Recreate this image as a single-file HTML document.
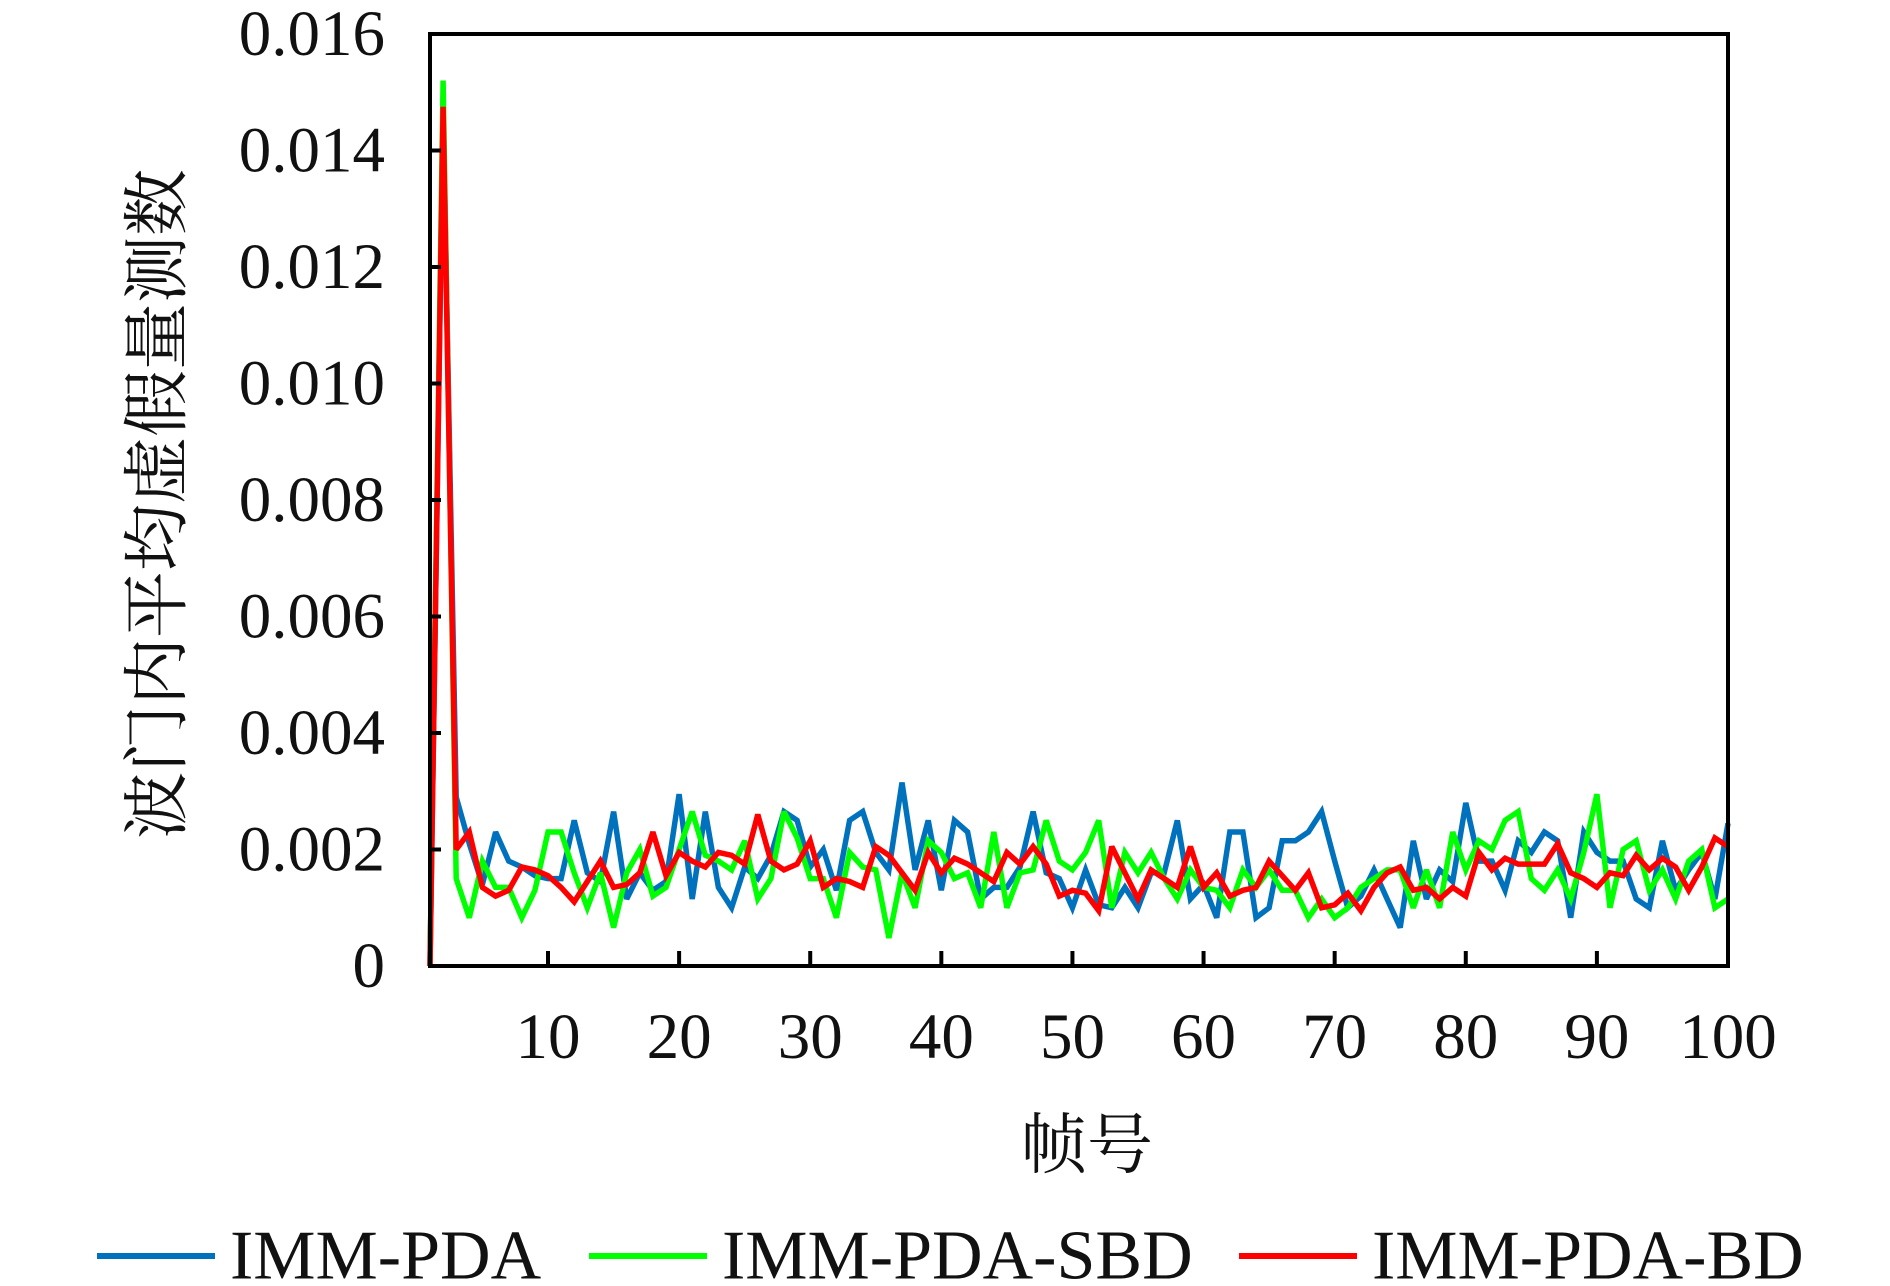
<!DOCTYPE html>
<html><head><meta charset="utf-8"><style>
html,body{margin:0;padding:0;background:#fff;}
svg{display:block;}
text{font-family:"Liberation Serif","Noto Serif CJK SC",serif;fill:#111;}
.cjk{font-family:"Liberation Serif","Noto Serif CJK SC","Noto Sans CJK SC",serif;}
</style></head><body>
<svg id="chart" width="1890" height="1286" viewBox="0 0 1890 1286" xmlns="http://www.w3.org/2000/svg">
<g id="plot"></g>
<g id="axes"></g>
<text class="cjk" x="0" y="0" font-size="67" text-anchor="middle" dominant-baseline="central" transform="translate(158,504) rotate(-90)">波门内平均虚假量测数</text>
<text class="cjk" x="1087" y="1146" font-size="66" text-anchor="middle" dominant-baseline="central">帧号</text>
<g id="legend"></g>
</svg>
<script>
const frames = Array.from({length:100},(_,k)=>k+1);
const yTicks = [0,0.002,0.004,0.006,0.008,0.010,0.012,0.014,0.016];
const yTickLabels = ["0","0.002","0.004","0.006","0.008","0.010","0.012","0.014","0.016"];
const xTicks = [10,20,30,40,50,60,70,80,90,100];
const seriesNames = ["IMM-PDA","IMM-PDA-SBD","IMM-PDA-BD"];
const seriesColors = ["#0072bd","#00ff00","#ff0000"];
// values in units of 0.001
const immPda = [0,14.7,2.9,2.1,1.4,2.3,1.8,1.7,1.55,1.5,1.5,2.5,1.6,1.45,2.65,1.15,1.6,1.3,1.45,2.95,1.15,2.65,1.35,1.0,1.7,1.5,1.9,2.65,2.5,1.7,2.0,1.3,2.5,2.65,1.95,1.65,3.15,1.65,2.5,1.3,2.5,2.3,1.15,1.35,1.35,1.7,2.65,1.6,1.5,1.0,1.65,1.05,1.0,1.35,1.0,1.6,1.6,2.5,1.15,1.4,0.83,2.3,2.3,0.83,1.0,2.15,2.15,2.3,2.65,1.8,1.0,1.2,1.65,1.15,0.66,2.15,1.15,1.65,1.45,2.8,1.8,1.8,1.3,2.15,1.95,2.3,2.15,0.83,2.3,1.95,1.8,1.8,1.15,1.0,2.15,1.3,1.65,1.95,1.15,2.45];
const immPdaSbd = [0,15.2,1.5,0.83,1.8,1.35,1.35,0.83,1.3,2.3,2.3,1.6,1.0,1.6,0.66,1.6,2.0,1.2,1.35,2.0,2.65,1.9,1.8,1.65,2.15,1.15,1.5,2.65,2.2,1.5,1.5,0.83,1.95,1.7,1.65,0.48,1.6,1.0,2.15,1.95,1.5,1.6,1.0,2.3,1.0,1.6,1.65,2.5,1.8,1.65,1.95,2.5,1.0,1.95,1.6,1.95,1.5,1.15,1.65,1.35,1.3,1.0,1.65,1.35,1.65,1.3,1.3,0.83,1.15,0.83,1.0,1.35,1.5,1.65,1.65,1.0,1.65,1.0,2.3,1.65,2.15,2.0,2.5,2.65,1.5,1.3,1.65,1.15,1.95,2.95,1.0,2.0,2.15,1.3,1.65,1.15,1.8,2.0,1.0,1.15];
const immPdaBd = [0,14.75,2.0,2.3,1.35,1.2,1.3,1.7,1.65,1.55,1.35,1.1,1.45,1.8,1.35,1.4,1.6,2.3,1.55,1.95,1.8,1.7,1.95,1.9,1.75,2.6,1.8,1.65,1.75,2.15,1.35,1.5,1.45,1.35,2.05,1.9,1.6,1.3,1.95,1.6,1.85,1.75,1.6,1.45,1.95,1.75,2.05,1.75,1.2,1.3,1.25,0.95,2.05,1.6,1.15,1.65,1.5,1.35,2.05,1.35,1.6,1.2,1.3,1.35,1.8,1.55,1.3,1.6,1.0,1.05,1.25,0.95,1.35,1.6,1.7,1.3,1.35,1.15,1.35,1.2,1.95,1.65,1.85,1.75,1.75,1.75,2.1,1.6,1.5,1.35,1.6,1.55,1.9,1.65,1.85,1.7,1.3,1.7,2.2,2.05];
const allSeries = [immPda, immPdaSbd, immPdaBd];

const L=430,R=1728,T=34,B=966;
const NS="http://www.w3.org/2000/svg";
function xScale(f){return L+(f-1)*(R-L)/99;}
function yScale(v){return B-(v/0.016)*(B-T);}
function mk(tag,attrs,parent){const e=document.createElementNS(NS,tag);for(const k in attrs)e.setAttribute(k,attrs[k]);parent.appendChild(e);return e;}

const plot=document.getElementById('plot');
const axes=document.getElementById('axes');
const legend=document.getElementById('legend');

allSeries.forEach((s,si)=>{
  const pts=s.map((v,k)=>xScale(frames[k]).toFixed(1)+','+yScale(v/1000).toFixed(1)).join(' ');
  const pl=mk('polyline',{points:pts,fill:'none',stroke:seriesColors[si],'stroke-width':5.5,'stroke-linejoin':'miter','stroke-miterlimit':3},plot);
  
  
});

const frame=mk('rect',{x:L,y:T,width:R-L,height:B-T,fill:'none',stroke:'#000','stroke-width':4},axes);



yTicks.forEach((v,k)=>{
  const y=yScale(v);
  const t=mk('line',{x1:L,x2:L+11,y1:y,y2:y,stroke:'#000','stroke-width':4},axes);
  
  
  const lb=mk('text',{x:385,y:y,'font-size':65,'text-anchor':'end','dominant-baseline':'central'},axes);
  lb.textContent=yTickLabels[k];
  
  
});
xTicks.forEach(f=>{
  const x=xScale(f);
  const t=mk('line',{x1:x,x2:x,y1:B,y2:B-15,stroke:'#000','stroke-width':4},axes);
  
  
  const lb=mk('text',{x:x,y:1037,'font-size':65,'text-anchor':'middle','dominant-baseline':'central'},axes);
  lb.textContent=String(f);
  
  
});

const legX=[97,589,1239];
seriesNames.forEach((n,si)=>{
  const g=mk('g',{},legend);
  
  
  const ln=mk('line',{x1:legX[si],x2:legX[si]+118,y1:1256,y2:1256,stroke:seriesColors[si],'stroke-width':6},g);
  
  
  const tx=mk('text',{x:legX[si]+133,y:1256,'font-size':70,'dominant-baseline':'central'},g);
  tx.textContent=n;
  
  
});
</script>
</body></html>
